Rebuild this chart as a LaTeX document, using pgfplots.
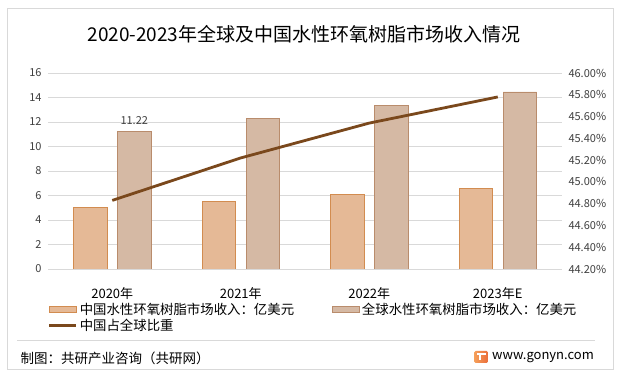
\documentclass[border=0pt]{standalone}
\usepackage{fontspec}
\setmainfont{Noto Sans CJK SC}
\usepackage{pgfplots}
\pgfplotsset{compat=1.18}
\definecolor{chinaFill}{RGB}{229,185,150}
\definecolor{chinaDraw}{RGB}{210,140,80}
\definecolor{globFill}{RGB}{213,185,164}
\definecolor{globDraw}{RGB}{185,140,108}
\definecolor{lineBrown}{RGB}{122,72,28}
\definecolor{gridGray}{RGB}{217,217,217}
\definecolor{borderGray}{RGB}{217,217,217}
\definecolor{textGray}{RGB}{64,64,64}
\definecolor{logoA}{RGB}{245,160,90}
\definecolor{logoB}{RGB}{235,110,60}
\begin{document}
\begin{tikzpicture}
\useasboundingbox (0bp,0bp) rectangle (622bp,377bp);
\fill[white] (0bp,0bp) rectangle (622bp,377bp);
\draw[borderGray, line width=0.8bp] (7.5bp,7.5bp) rectangle (613bp,368.5bp);
\node[font=\fontsize{19bp}{22bp}\selectfont, text=black] at (304bp,343bp) {2020-2023年全球及中国水性环氧树脂市场收入情况};
\draw[borderGray, line width=0.8bp] (17bp,36.3bp) -- (595bp,36.3bp);
\node[anchor=west, inner sep=0pt, font=\fontsize{13.5bp}{15bp}\selectfont] at (20.5bp,19bp) {制图：共研产业咨询（共研网）};
\shade[left color=logoA, right color=logoB, rounded corners=1.5bp] (474bp,14bp) rectangle (488bp,26bp);
\fill[white] (476.5bp,22bp) rectangle (485.5bp,23.5bp);
\fill[white] (479bp,16.5bp) rectangle (481bp,22bp);
\node[anchor=west, inner sep=0pt, font=\fontsize{13bp}{15bp}\selectfont] at (492bp,19.5bp) {www.gonyn.com};

\begin{axis}[
  at={(48bp,108bp)}, anchor=south west, scale only axis,
  width=514bp, height=196bp,
  xmin=-0.5, xmax=3.5, ymin=0, ymax=16,
  ytick={0,2,4,6,8,10,12,14,16},
  xtick={0,1,2,3},
  xticklabels={2020年,2021年,2022年,2023年E},
  axis line style={draw=none},
  ymajorgrids, grid style={gridGray, line width=0.8bp},
  major tick length=0,
  ybar, bar width=33.5bp,
  /pgf/number format/assume math mode=true,
  yticklabel style={font=\fontsize{11bp}{13bp}\selectfont, text=textGray, xshift=-3bp},
  xticklabel style={font=\fontsize{13bp}{15bp}\selectfont, text=black, yshift=-15bp},
  legend columns=2,
  legend cell align=left,
  legend style={at={(axis description cs:0.0,-0.163)}, anchor=north west, draw=none, fill=none,
    font=\fontsize{13.4bp}{15bp}\selectfont, inner sep=0pt, row sep=-1bp,
    /tikz/every even column/.style={column sep=36bp}},
]
\addplot[fill=chinaFill, draw=chinaDraw, line width=0.8bp, bar shift=-22bp,
  legend image code/.code={\draw[fill=chinaFill, draw=chinaDraw, line width=0.8bp] (0bp,-3.3bp) rectangle (27bp,3.3bp);}]
  coordinates {(0,5.04) (1,5.53) (2,6.10) (3,6.60)};
\addlegendentry{中国水性环氧树脂市场收入：亿美元}
\addplot[fill=globFill, draw=globDraw, line width=0.8bp, bar shift=22bp,
  legend image code/.code={\draw[fill=globFill, draw=globDraw, line width=0.8bp] (0bp,-3.3bp) rectangle (27bp,3.3bp);}]
  coordinates {(0,11.22) (1,12.32) (2,13.38) (3,14.45)};
\addlegendentry{全球水性环氧树脂市场收入：亿美元}
\addplot[draw=none, fill=none, bar shift=22bp, forget plot,
  nodes near coords, point meta=y,
  nodes near coords style={font=\fontsize{11bp}{12bp}\selectfont, text=textGray, yshift=3bp, /pgf/number format/fixed, /pgf/number format/precision=2, /pgf/number format/assume math mode=true}]
  coordinates {(0,11.22)};
\addlegendimage{legend image code/.code={\draw[lineBrown, line width=2.6bp] (0bp,0bp) -- (27bp,0bp);}}
\addlegendentry{中国占全球比重}
\end{axis}

\begin{axis}[
  at={(48bp,108bp)}, anchor=south west, scale only axis,
  width=514bp, height=196bp,
  xmin=-0.5, xmax=3.5, ymin=44.2, ymax=46.0,
  axis x line=none, axis y line*=right,
  axis line style={draw=none},
  major tick length=0,
  ytick={44.2,44.4,44.6,44.8,45.0,45.2,45.4,45.6,45.8,46.0},
  yticklabel={\pgfmathprintnumber[fixed,fixed zerofill,precision=2]{\tick}\%},
  /pgf/number format/assume math mode=true,
  yticklabel style={font=\fontsize{11bp}{13bp}\selectfont, text=textGray, xshift=3bp},
]
\addplot[lineBrown, line width=2.8bp, mark=none] coordinates {(0,44.83) (1,45.22) (2,45.54) (3,45.78)};
\end{axis}
\end{tikzpicture}
\end{document}
